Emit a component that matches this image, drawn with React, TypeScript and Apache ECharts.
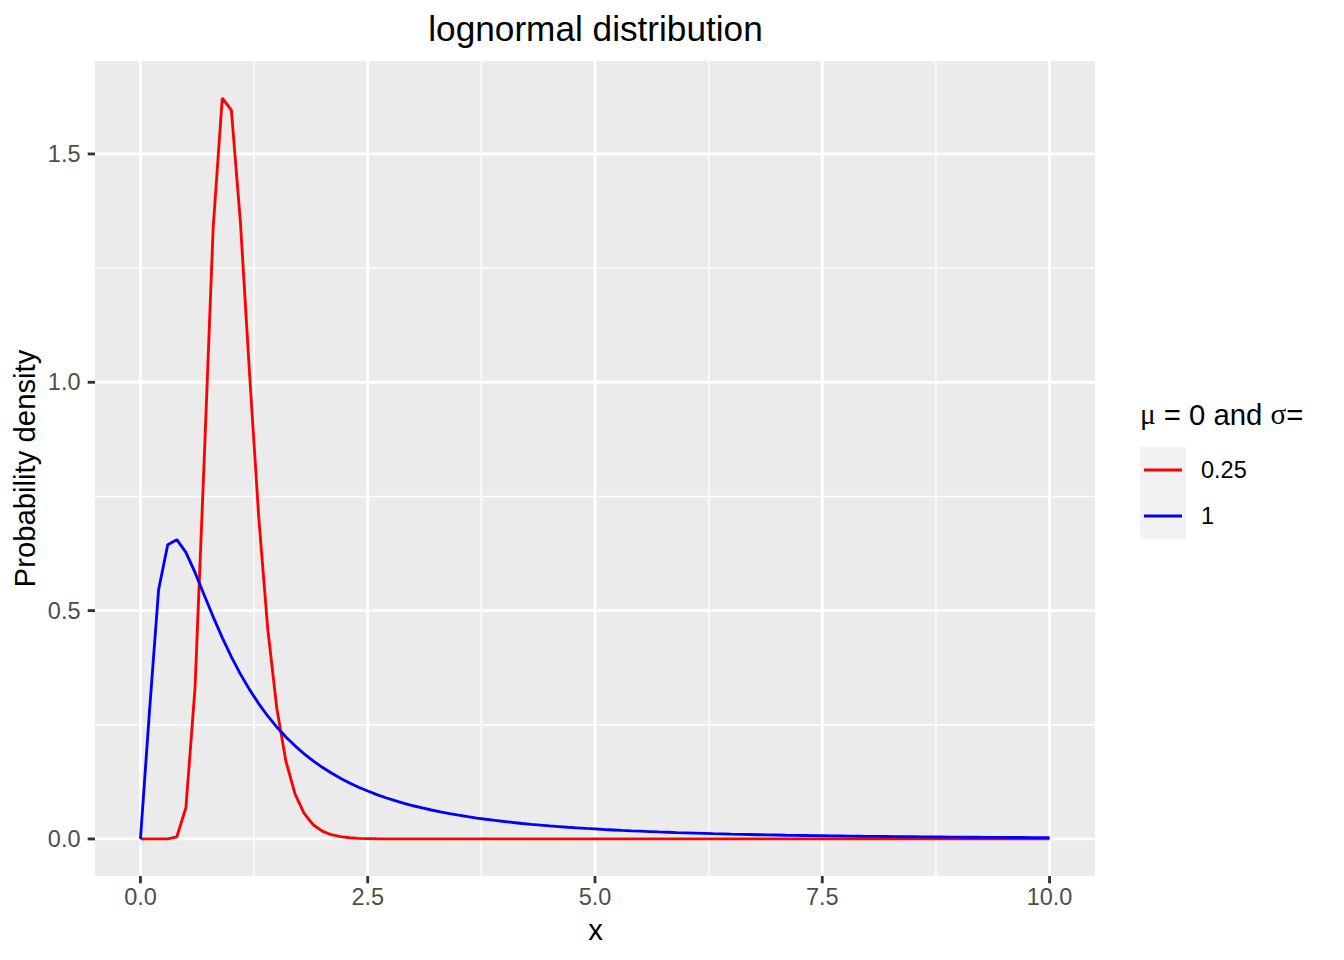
import React, { useEffect, useRef } from "react";
import * as echarts from "echarts";

const xValues = [
  0.0, 0.1, 0.2, 0.3, 0.4, 0.5, 0.6, 0.7, 0.8, 0.9,
  1.0, 1.1, 1.2, 1.3, 1.4, 1.5, 1.6, 1.7, 1.8, 1.9,
  2.0, 2.1, 2.2, 2.3, 2.4, 2.5, 2.6, 2.7, 2.8, 2.9,
  3.0, 3.1, 3.2, 3.3, 3.4, 3.5, 3.6, 3.7, 3.8, 3.9,
  4.0, 4.1, 4.2, 4.3, 4.4, 4.5, 4.6, 4.7, 4.8, 4.9,
  5.0, 5.1, 5.2, 5.3, 5.4, 5.5, 5.6, 5.7, 5.8, 5.9,
  6.0, 6.1, 6.2, 6.3, 6.4, 6.5, 6.6, 6.7, 6.8, 6.9,
  7.0, 7.1, 7.2, 7.3, 7.4, 7.5, 7.6, 7.7, 7.8, 7.9,
  8.0, 8.1, 8.2, 8.3, 8.4, 8.5, 8.6, 8.7, 8.8, 8.9,
  9.0, 9.1, 9.2, 9.3, 9.4, 9.5, 9.6, 9.7, 9.8, 9.9,
  10.0,
];

// sigma = 0.25
const densitySigma025 = [
  0, 0, 0, 0.00005, 0.0048, 0.0684, 0.3298, 0.824, 1.3393, 1.6224,
  1.5958, 1.349, 1.0193, 0.7077, 0.4608, 0.2856, 0.1703, 0.0987, 0.0559, 0.0311,
  0.0171, 0.0093, 0.005, 0.0027, 0.0014, 0.0008, 0.0004, 0.0002, 0.0001, 0.0001,
  0, 0, 0, 0, 0, 0, 0, 0, 0, 0,
  0, 0, 0, 0, 0, 0, 0, 0, 0, 0,
  0, 0, 0, 0, 0, 0, 0, 0, 0, 0,
  0, 0, 0, 0, 0, 0, 0, 0, 0, 0,
  0, 0, 0, 0, 0, 0, 0, 0, 0, 0,
  0, 0, 0, 0, 0, 0, 0, 0, 0, 0,
  0, 0, 0, 0, 0, 0, 0, 0, 0, 0,
  0,
];

// sigma = 1
const densitySigma1 = [
  0, 0.2816, 0.5463, 0.6442, 0.6554, 0.6275, 0.5836, 0.5348, 0.4864, 0.4408,
  0.3989, 0.361, 0.327, 0.2965, 0.2693, 0.245, 0.2233, 0.2039, 0.1865, 0.1709,
  0.1569, 0.1443, 0.1329, 0.1226, 0.1133, 0.1049, 0.0972, 0.0902, 0.0839, 0.078,
  0.0727, 0.0679, 0.0634, 0.0593, 0.0555, 0.052, 0.0488, 0.0458, 0.0431, 0.0405,
  0.0382, 0.036, 0.0339, 0.032, 0.0303, 0.0286, 0.0271, 0.0256, 0.0243, 0.023,
  0.0219, 0.0207, 0.0197, 0.0187, 0.0178, 0.017, 0.0162, 0.0154, 0.0147, 0.014,
  0.0134, 0.0128, 0.0122, 0.0116, 0.0111, 0.0106, 0.0102, 0.0098, 0.0093, 0.009,
  0.0086, 0.0082, 0.0079, 0.0076, 0.0073, 0.007, 0.0067, 0.0065, 0.0062, 0.006,
  0.0057, 0.0055, 0.0053, 0.0051, 0.0049, 0.0048, 0.0046, 0.0044, 0.0043, 0.0041,
  0.004, 0.0038, 0.0037, 0.0036, 0.0035, 0.0033, 0.0032, 0.0031, 0.003, 0.0029,
  0.0028,
];

const seriesNames = ["0.25", "1"];
const seriesColors = ["#FF0000", "#0000FF"];

const xMajorTicks = [0, 2.5, 5, 7.5, 10];
const xMinorTicks = [1.25, 3.75, 6.25, 8.75];
const yMajorTicks = [0, 0.5, 1.0, 1.5];
const yMinorTicks = [0.25, 0.75, 1.25];

const X_MIN = -0.5;
const X_MAX = 10.5;
const Y_MIN = -0.08112;
const Y_MAX = 1.70352;

const SANS = '"Liberation Sans", Arial, Helvetica, sans-serif';
const SERIF = '"Liberation Serif", "DejaVu Serif", serif';

const TICK_LEN = 7.3;

function gridLineSeries(values: number[], dir: "x" | "y", width: number) {
  return {
    type: "custom",
    silent: true,
    z: 1,
    clip: true,
    data: values.map((v) => (dir === "x" ? [v, 0] : [0, v])),
    renderItem: (params: any, api: any) => {
      const cs = params.coordSys;
      if (dir === "x") {
        const p = api.coord([api.value(0), 0]);
        return {
          type: "line",
          shape: { x1: p[0], y1: cs.y, x2: p[0], y2: cs.y + cs.height },
          style: { stroke: "#FFFFFF", lineWidth: width },
        };
      }
      const p = api.coord([0, api.value(1)]);
      return {
        type: "line",
        shape: { x1: cs.x, y1: p[1], x2: cs.x + cs.width, y2: p[1] },
        style: { stroke: "#FFFFFF", lineWidth: width },
      };
    },
  };
}

function tickSeries(values: number[], dir: "x" | "y") {
  return {
    type: "custom",
    silent: true,
    z: 2,
    clip: false,
    data: values.map((v) => (dir === "x" ? [v, 0] : [0, v])),
    renderItem: (params: any, api: any) => {
      const cs = params.coordSys;
      if (dir === "x") {
        const p = api.coord([api.value(0), 0]);
        const yb = cs.y + cs.height;
        return {
          type: "line",
          shape: { x1: p[0], y1: yb, x2: p[0], y2: yb + TICK_LEN },
          style: { stroke: "#333333", lineWidth: 2.84 },
        };
      }
      const p = api.coord([0, api.value(1)]);
      return {
        type: "line",
        shape: { x1: cs.x - TICK_LEN, y1: p[1], x2: cs.x, y2: p[1] },
        style: { stroke: "#333333", lineWidth: 2.84 },
      };
    },
  };
}

export default function App() {
  const ref = useRef<HTMLDivElement>(null);

  useEffect(() => {
    if (!ref.current) return;
    const chart = echarts.init(ref.current, undefined, { renderer: "svg" });

    const curves = [densitySigma025, densitySigma1].map((ys, i) => ({
      type: "line",
      name: seriesNames[i],
      data: xValues.map((x, j) => [x, ys[j]]),
      symbol: "none",
      showSymbol: false,
      z: 3,
      lineStyle: { color: seriesColors[i], width: 2.84 },
      itemStyle: { color: seriesColors[i] },
    }));

    chart.setOption({
      animation: false,
      backgroundColor: "#FFFFFF",
      grid: {
        left: 95,
        top: 61,
        width: 1000,
        height: 815,
        show: true,
        backgroundColor: "#EBEBEB",
        borderWidth: 0,
        containLabel: false,
        outerBoundsMode: "none",
      },
      xAxis: {
        type: "value",
        min: X_MIN,
        max: X_MAX,
        axisLine: { show: false },
        splitLine: { show: false },
        axisTick: { show: false },
        axisLabel: {
          customValues: xMajorTicks,
          formatter: (v: number) => v.toFixed(1),
          margin: 9,
          fontSize: 23.5,
          fontFamily: SANS,
          color: "#4D4D4D",
        },
      },
      yAxis: {
        type: "value",
        min: Y_MIN,
        max: Y_MAX,
        axisLine: { show: false },
        splitLine: { show: false },
        axisTick: { show: false },
        axisLabel: {
          customValues: yMajorTicks,
          formatter: (v: number) => v.toFixed(1),
          margin: 14.5,
          fontSize: 23.5,
          fontFamily: SANS,
          color: "#4D4D4D",
        },
      },
      legend: {
        data: seriesNames.map((n) => ({ name: n, icon: "rect" })),
        orient: "vertical",
        left: 1144,
        top: 458,
        padding: 0,
        itemWidth: 38,
        itemHeight: 2.84,
        itemGap: 22,
        selectedMode: false,
        textStyle: {
          fontSize: 23.5,
          fontFamily: SANS,
          color: "#000000",
          lineHeight: 24,
          padding: [0, 0, 0, 14],
        },
      },
      graphic: [
        {
          type: "rect",
          z: 0,
          shape: { x: 1140, y: 446.7, width: 46, height: 92 },
          style: { fill: "#F2F2F2" },
        },
        {
          type: "text",
          x: 595.5,
          y: 28,
          style: {
            text: "lognormal distribution",
            fontSize: 35.2,
            fontFamily: SANS,
            fill: "#000000",
            align: "center",
            verticalAlign: "middle",
          },
        },
        {
          type: "text",
          x: 595.5,
          y: 929,
          style: {
            text: "x",
            fontSize: 29.3,
            fontFamily: SANS,
            fill: "#000000",
            align: "center",
            verticalAlign: "middle",
          },
        },
        {
          type: "text",
          x: 24.5,
          y: 468.5,
          rotation: Math.PI / 2,
          style: {
            text: "Probability density",
            fontSize: 29.3,
            fontFamily: SANS,
            fill: "#000000",
            align: "center",
            verticalAlign: "middle",
          },
        },
        {
          type: "text",
          x: 1140,
          y: 414,
          style: {
            text: "{g|μ} = 0 and {g|σ}=",
            fontSize: 29.3,
            fontFamily: SANS,
            fill: "#000000",
            align: "left",
            verticalAlign: "middle",
            rich: {
              g: { fontSize: 29.3, fontFamily: SERIF, fill: "#000000" },
            },
          },
        },
      ],
      series: [
        gridLineSeries(xMinorTicks, "x", 1.42),
        gridLineSeries(yMinorTicks, "y", 1.42),
        gridLineSeries(xMajorTicks, "x", 2.84),
        gridLineSeries(yMajorTicks, "y", 2.84),
        tickSeries(xMajorTicks, "x"),
        tickSeries(yMajorTicks, "y"),
        ...curves,
      ],
    });

    return () => chart.dispose();
  }, []);

  return (
    <div
      ref={ref}
      style={{ position: "fixed", left: 0, top: 0, width: 1344, height: 960 }}
    />
  );
}
